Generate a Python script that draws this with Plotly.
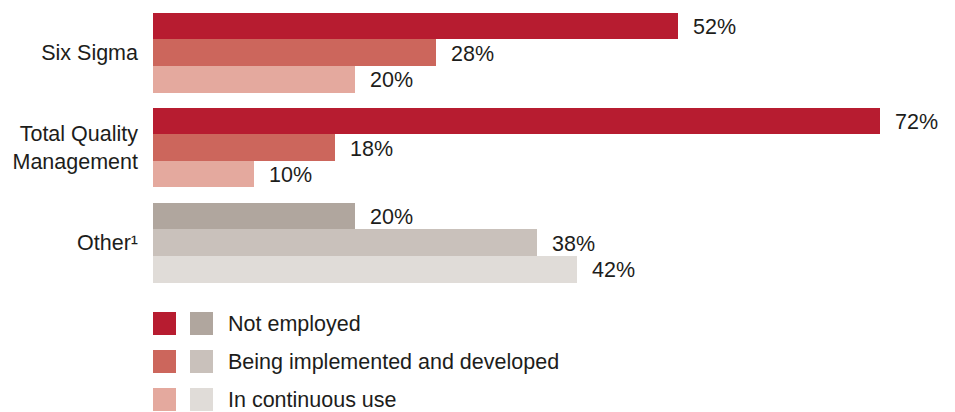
import plotly.graph_objects as go

# Survey data: share of respondents per quality method and status
categories = ["Six Sigma", "Total Quality<br>Management", "Other¹"]
not_employed = [52, 72, 20]
being_implemented = [28, 18, 38]
continuous_use = [20, 10, 42]
series_names = ["Not employed", "Being implemented and developed", "In continuous use"]

# Colour palettes: red tones for the named methods, grey tones for "Other"
reds = ["#B71C30", "#CC665C", "#E4A99E"]
greys = ["#B0A69E", "#C9C1BB", "#E0DCD8"]

W, H = 955, 412
ML, MR, MT, MB = 153, 0, 5, 122
FONT = "Liberation Sans, Arial, sans-serif"
FS = 21.5
TXT = "#1d1d1b"

series = [not_employed, being_implemented, continuous_use]
n_series = len(series)
group_gap = 0.158
bar_w = (1 - group_gap) / n_series

fig = go.Figure()
annotations = []
for s, (vals, name) in enumerate(zip(series, series_names)):
    ys = [g + (s - (n_series - 1) / 2) * bar_w for g in range(len(categories))]
    colors = [greys[s] if g == len(categories) - 1 else reds[s] for g in range(len(categories))]
    fig.add_trace(go.Bar(
        x=vals, y=ys, orientation="h", width=bar_w,
        marker=dict(color=colors, line=dict(width=0)),
        name=name, showlegend=False, hoverinfo="x",
    ))
    for v, y in zip(vals, ys):
        annotations.append(dict(
            x=v, y=y, xref="x", yref="y", text=f"{v}%", showarrow=False,
            xanchor="left", yanchor="middle", xshift=13, yshift=-1,
            font=dict(family=FONT, size=FS, color=TXT),
        ))

# Custom legend: a red and a grey swatch per status, followed by its label
plot_w = W - ML - MR
plot_h = H - MT - MB
def px_x(px):
    return (px - ML) / plot_w
def px_y(py):
    return (H - MB - py) / plot_h

shapes = []
row_tops = [312, 350, 388]
sw = 23
for i, name in enumerate(series_names):
    top = row_tops[i]
    for x0, col in ((153, reds[i]), (190, greys[i])):
        shapes.append(dict(
            type="rect", xref="paper", yref="paper",
            x0=px_x(x0), x1=px_x(x0 + sw), y0=px_y(top + sw), y1=px_y(top),
            fillcolor=col, line=dict(width=0),
        ))
    annotations.append(dict(
        x=px_x(226), y=px_y(top + sw / 2), xref="paper", yref="paper",
        text=name, showarrow=False, xanchor="left", yanchor="middle",
        font=dict(family=FONT, size=FS, color=TXT),
    ))

fig.update_layout(
    width=W, height=H, autosize=False,
    margin=dict(l=ML, r=MR, t=MT, b=MB, pad=0),
    paper_bgcolor="white", plot_bgcolor="white",
    font=dict(family=FONT, size=FS, color=TXT),
    xaxis=dict(range=[0, plot_w / 10.1], visible=False, fixedrange=True),
    yaxis=dict(
        range=[len(categories) - 0.5, -0.5],
        tickvals=list(range(len(categories))), ticktext=categories,
        showgrid=False, zeroline=False, showline=False, ticks="",
        ticklabelstandoff=14, tickfont=dict(family=FONT, size=FS, color=TXT),
        fixedrange=True,
    ),
    shapes=shapes,
    annotations=annotations,
    bargap=0,
)

fig.write_html("out.html")
